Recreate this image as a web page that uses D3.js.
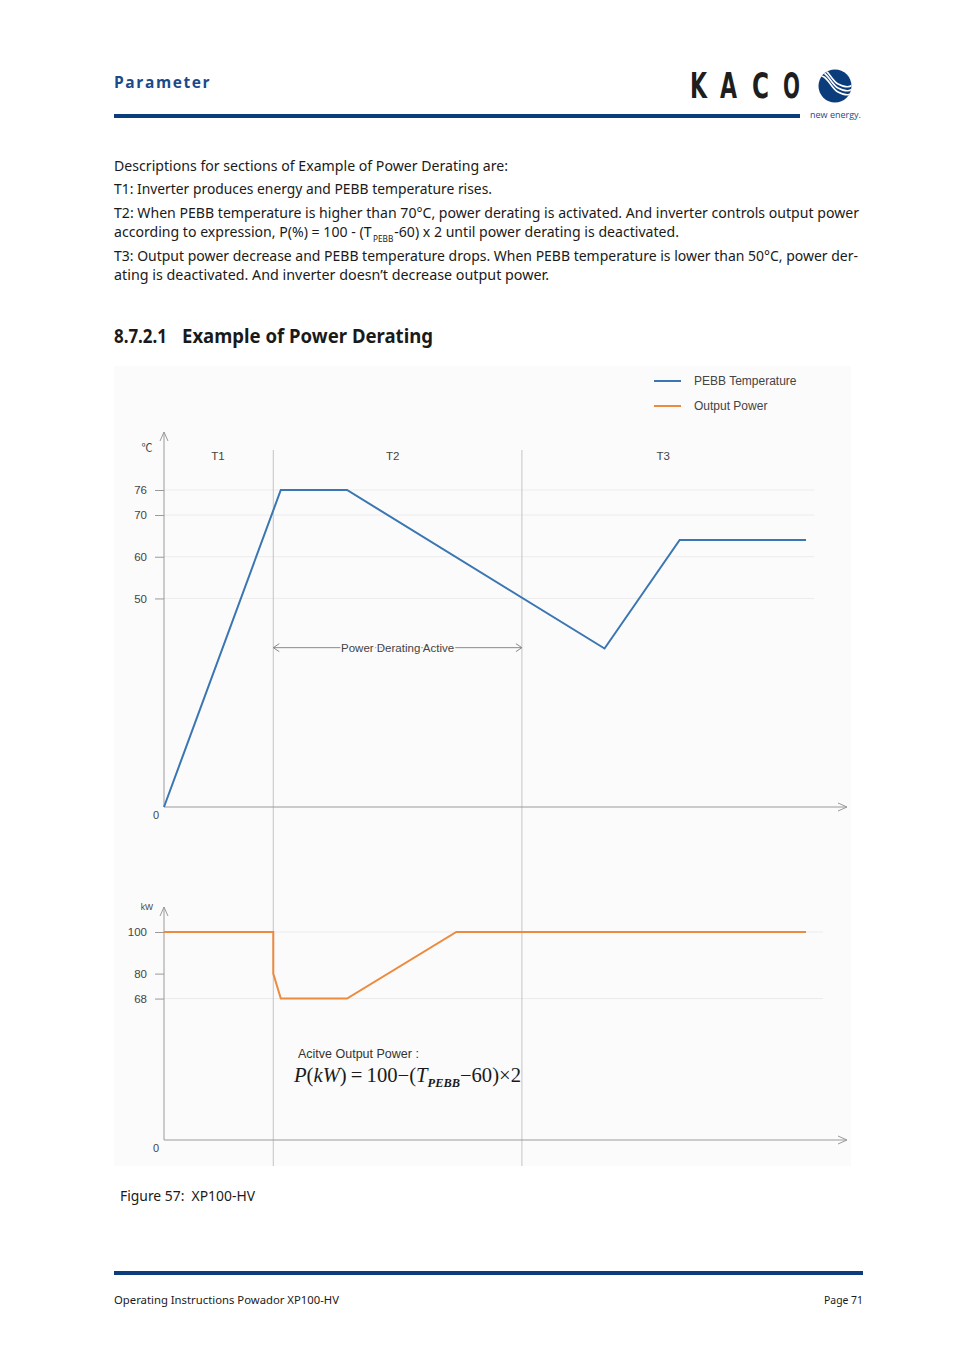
<!DOCTYPE html>
<html><head><meta charset="utf-8">
<script src="https://cdn.jsdelivr.net/npm/d3@7"></script>
<style>body{margin:0;background:#fff} svg{display:block}</style>
</head><body>
<svg id="page" width="954" height="1350"></svg>
<script>
// ---------- data ----------
const tempTime = [0, 17.1, 26.8, 64.5, 75.5, 94];
const tempValues = [0, 76, 76, 38, 64, 64];
const powerTime = [0, 16, 16, 17.1, 26.8, 42.8, 94];
const powerValues = [100, 100, 80, 68, 68, 100, 100];
const sectionBounds = [16, 52.4];
const sectionLabels = ["T1", "T2", "T3"];
const sectionLabelTime = [7.9, 33.5, 73.1];
const tempTicks = [76, 70, 60, 50];
const powerTicks = [100, 80, 68];
const tempGrid = [76, 70, 60, 50];
const powerGrid = [100, 68];
const seriesNames = ["PEBB Temperature", "Output Power"];
const deratingLevel = 38.2;

const BLUE = "#3a76b2", ORANGE = "#ec8a3e", NAVY = "#0b3c7c";
const svg = d3.select("#page");

// ---------- page header ----------
svg.append("text").attr("x", 114).attr("y", 88).text("Parameter")
  .attr("font-family", "'Open Sans', 'Noto Sans', sans-serif").attr("font-weight", 700)
  .attr("font-size", 15.5).attr("letter-spacing", 1.6).attr("fill", "#1b4a8a");
svg.append("rect").attr("x", 114).attr("y", 114).attr("width", 686).attr("height", 4).attr("fill", NAVY);
const kaco = ["K", "A", "C", "O"], kacoX = [690, 720, 752, 783];
svg.selectAll("text.kaco").data(kaco).join("text").attr("class", "kaco")
  .attr("x", (d, i) => kacoX[i]).attr("y", 98)
  .attr("font-family", "'DejaVu Sans Condensed', 'DejaVu Sans', sans-serif").attr("font-weight", 700)
  .attr("font-size", 35).attr("fill", "#1e1e1e")
  .attr("textLength", 17).attr("lengthAdjust", "spacingAndGlyphs").text(d => d);
svg.append("clipPath").attr("id", "logoClip").append("circle").attr("cx", 835).attr("cy", 86).attr("r", 16.5);
svg.append("circle").attr("cx", 835).attr("cy", 86).attr("r", 16.5).attr("fill", NAVY);
const waves = svg.append("g").attr("clip-path", "url(#logoClip)");
[-4, 0, 4].forEach(o => {
  waves.append("path")
    .attr("d", `M816,${74 + o} C826,${66 + o} 830,${84 + o} 838,${88 + o} S850,${92 + o} 856,${86 + o}`)
    .attr("fill", "none").attr("stroke", "#fff").attr("stroke-width", 1.6);
});
svg.append("text").attr("x", 810).attr("y", 118).text("new energy.")
  .attr("font-family", "'Open Sans', sans-serif").attr("font-size", 9).attr("fill", "#1b4a8a");

// ---------- description text ----------
const bodyFont = "'Noto Sans', 'Open Sans', sans-serif";
function bodyText(x, y, str, len, size) {
  return svg.append("text").attr("x", x).attr("y", y).text(str)
    .attr("font-family", bodyFont).attr("font-size", size || 14.5).attr("fill", "#1a1a1a")
    .attr("textLength", len).attr("lengthAdjust", "spacingAndGlyphs");
}
bodyText(114, 171, "Descriptions for sections of Example of Power Derating are:", 394);
bodyText(114, 194, "T1: Inverter produces energy and PEBB temperature rises.", 378);
bodyText(114, 218, "T2: When PEBB temperature is higher than 70°C, power derating is activated. And inverter controls output power", 745);
const ex = svg.append("text").attr("x", 114).attr("y", 237)
  .attr("font-family", bodyFont).attr("font-size", 14.5).attr("fill", "#1a1a1a")
  .attr("textLength", 565).attr("lengthAdjust", "spacingAndGlyphs");
ex.append("tspan").text("according to expression, P(%) = 100 - (T");
ex.append("tspan").attr("font-size", 8.5).attr("dx", 1.5).attr("dy", 5).text("PEBB");
ex.append("tspan").attr("dx", 1).attr("dy", -5).text("-60) x 2 until power derating is deactivated.");
bodyText(114, 261, "T3: Output power decrease and PEBB temperature drops. When PEBB temperature is lower than 50°C, power der-", 744);
bodyText(114, 280, "ating is deactivated. And inverter doesn\u2019t decrease output power.", 435);

svg.append("text").attr("x", 114).attr("y", 343).text("8.7.2.1")
  .attr("font-family", bodyFont).attr("font-weight", 700).attr("font-size", 19).attr("fill", "#1a1a1a")
  .attr("textLength", 53).attr("lengthAdjust", "spacingAndGlyphs");
svg.append("text").attr("x", 182).attr("y", 343).text("Example of Power Derating")
  .attr("font-family", bodyFont).attr("font-weight", 700).attr("font-size", 19).attr("fill", "#1a1a1a")
  .attr("textLength", 251).attr("lengthAdjust", "spacingAndGlyphs");

// ---------- chart ----------
svg.append("rect").attr("x", 114).attr("y", 366).attr("width", 737).attr("height", 800).attr("fill", "#fbfbfb");

const x = d3.scaleLinear().domain([0, 100]).range([164, 847]);
const yT = d3.scaleLinear().domain([0, 76]).range([807, 490]);
const yP = d3.scaleLinear().domain([0, 100]).range([1140, 932]);
const chartFont = "'Liberation Sans', Arial, sans-serif";
const AX = "#9a9a9a";

// gridlines
svg.selectAll("line.gt").data(tempGrid).join("line").attr("class", "gt")
  .attr("x1", x(0)).attr("x2", x(95.2)).attr("y1", d => yT(d)).attr("y2", d => yT(d))
  .attr("stroke", "#ececec").attr("stroke-width", 1);
svg.selectAll("line.gp").data(powerGrid).join("line").attr("class", "gp")
  .attr("x1", x(0)).attr("x2", x(96.5)).attr("y1", d => yP(d)).attr("y2", d => yP(d))
  .attr("stroke", "#ececec").attr("stroke-width", 1);

// section dividers
svg.selectAll("line.sec").data(sectionBounds).join("line").attr("class", "sec")
  .attr("x1", d => x(d)).attr("x2", d => x(d)).attr("y1", 450).attr("y2", 1166)
  .attr("stroke", "#c4c4c4").attr("stroke-width", 1);
svg.selectAll("text.sec").data(sectionLabels).join("text").attr("class", "sec")
  .attr("x", (d, i) => x(sectionLabelTime[i])).attr("y", 460).attr("text-anchor", "middle")
  .attr("font-family", chartFont).attr("font-size", 11.5).attr("fill", "#444").text(d => d);

// axes
function axisTicks(scale, ticks) {
  return d3.axisLeft(scale).tickValues(ticks).tickSize(9).tickPadding(8).tickFormat(d3.format("d"));
}
const gT = svg.append("g").attr("transform", `translate(${x(0)},0)`).call(axisTicks(yT, tempTicks));
const gP = svg.append("g").attr("transform", `translate(${x(0)},0)`).call(axisTicks(yP, powerTicks));
[gT, gP].forEach(g => {
  g.select(".domain").remove();
  g.selectAll(".tick line").attr("stroke", AX);
  g.selectAll(".tick text").attr("font-family", chartFont).attr("font-size", 11.5).attr("fill", "#444");
});

function arrowAxes(yZero, yTop) {
  const g = svg.append("g").attr("stroke", AX).attr("fill", "none").attr("stroke-width", 1);
  g.append("line").attr("x1", x(0)).attr("x2", x(0)).attr("y1", yZero).attr("y2", yTop);
  g.append("polyline").attr("points", `${x(0) - 4},${yTop + 9} ${x(0)},${yTop} ${x(0) + 4},${yTop + 9}`);
  g.append("line").attr("x1", x(0)).attr("x2", x(100)).attr("y1", yZero).attr("y2", yZero);
  g.append("polyline").attr("points", `${x(100) - 9},${yZero - 4} ${x(100)},${yZero} ${x(100) - 9},${yZero + 4}`);
  svg.append("text").attr("x", x(0) - 8).attr("y", yZero + 12).attr("text-anchor", "middle")
    .attr("font-family", chartFont).attr("font-size", 11).attr("fill", "#444").text("0");
}
arrowAxes(yT(0), 432);
arrowAxes(yP(0), 907);
svg.append("text").attr("x", 147).attr("y", 452).attr("text-anchor", "middle")
  .attr("font-family", "'Noto Sans CJK KR', sans-serif").attr("font-size", 11).attr("fill", "#444").text("\u2103");
svg.append("text").attr("x", 147).attr("y", 910).attr("text-anchor", "middle")
  .attr("font-family", chartFont).attr("font-size", 8.5).attr("fill", "#444").text("kW");

// derating active arrow
const ya = yT(deratingLevel);
const da = svg.append("g").attr("stroke", "#8a8a8a").attr("fill", "none").attr("stroke-width", 1);
da.append("line").attr("x1", x(sectionBounds[0])).attr("x2", x(sectionBounds[1])).attr("y1", ya).attr("y2", ya);
da.append("polyline").attr("points", `${x(sectionBounds[0]) + 6},${ya - 4} ${x(sectionBounds[0])},${ya} ${x(sectionBounds[0]) + 6},${ya + 4}`);
da.append("polyline").attr("points", `${x(sectionBounds[1]) - 6},${ya - 4} ${x(sectionBounds[1])},${ya} ${x(sectionBounds[1]) - 6},${ya + 4}`);
svg.append("text").attr("x", x((sectionBounds[0] + sectionBounds[1]) / 2)).attr("y", ya + 4)
  .attr("text-anchor", "middle").attr("font-family", chartFont).attr("font-size", 11.5)
  .attr("fill", "#444").attr("stroke", "#fbfbfb").attr("stroke-width", 3).attr("paint-order", "stroke")
  .text("Power Derating Active");

// series lines
const lineT = d3.line().x((d, i) => x(tempTime[i])).y(d => yT(d));
const lineP = d3.line().x((d, i) => x(powerTime[i])).y(d => yP(d));
svg.append("path").attr("d", lineT(tempValues)).attr("fill", "none").attr("stroke", BLUE).attr("stroke-width", 2);
svg.append("path").attr("d", lineP(powerValues)).attr("fill", "none").attr("stroke", ORANGE).attr("stroke-width", 2);

// legend
const legColors = [BLUE, ORANGE];
const leg = svg.selectAll("g.leg").data(seriesNames).join("g").attr("class", "leg")
  .attr("transform", (d, i) => `translate(654,${381 + i * 25})`);
leg.append("line").attr("x1", 0).attr("x2", 27).attr("stroke", (d, i) => legColors[i]).attr("stroke-width", 2);
leg.append("text").attr("x", 40).attr("y", 4).attr("font-family", chartFont).attr("font-size", 12)
  .attr("fill", "#444").text(d => d);

// formula
svg.append("text").attr("x", 298).attr("y", 1058).attr("font-family", chartFont).attr("font-size", 12.5)
  .attr("fill", "#333").text("Acitve Output Power :");
const f = svg.append("text").attr("x", 294).attr("y", 1082).attr("font-family", "'Liberation Serif', 'Times New Roman', serif")
  .attr("font-size", 20).attr("fill", "#1a1a1a").attr("textLength", 227).attr("lengthAdjust", "spacingAndGlyphs");
f.append("tspan").attr("font-style", "italic").text("P");
f.append("tspan").text("(");
f.append("tspan").attr("font-style", "italic").text("kW");
f.append("tspan").text(")\u2009=\u2009100\u2212(");
f.append("tspan").attr("font-style", "italic").text("T");
f.append("tspan").attr("font-style", "italic").attr("font-weight", 700).attr("font-size", 12).attr("dy", 5).text("PEBB");
f.append("tspan").attr("dy", -5).text("\u221260)\u00d72");

// caption + footer
bodyText(120, 1201, "Figure 57:\u00a0\u00a0XP100-HV", 135);
svg.append("rect").attr("x", 114).attr("y", 1271).attr("width", 749).attr("height", 4).attr("fill", NAVY);
bodyText(114, 1304, "Operating Instructions Powador XP100-HV", 225, 11.5);
svg.append("text").attr("x", 863).attr("y", 1304).attr("text-anchor", "end").text("Page 71")
  .attr("font-family", bodyFont).attr("font-size", 11.5).attr("fill", "#1a1a1a")
  .attr("textLength", 39).attr("lengthAdjust", "spacingAndGlyphs");
</script>
</body></html>
